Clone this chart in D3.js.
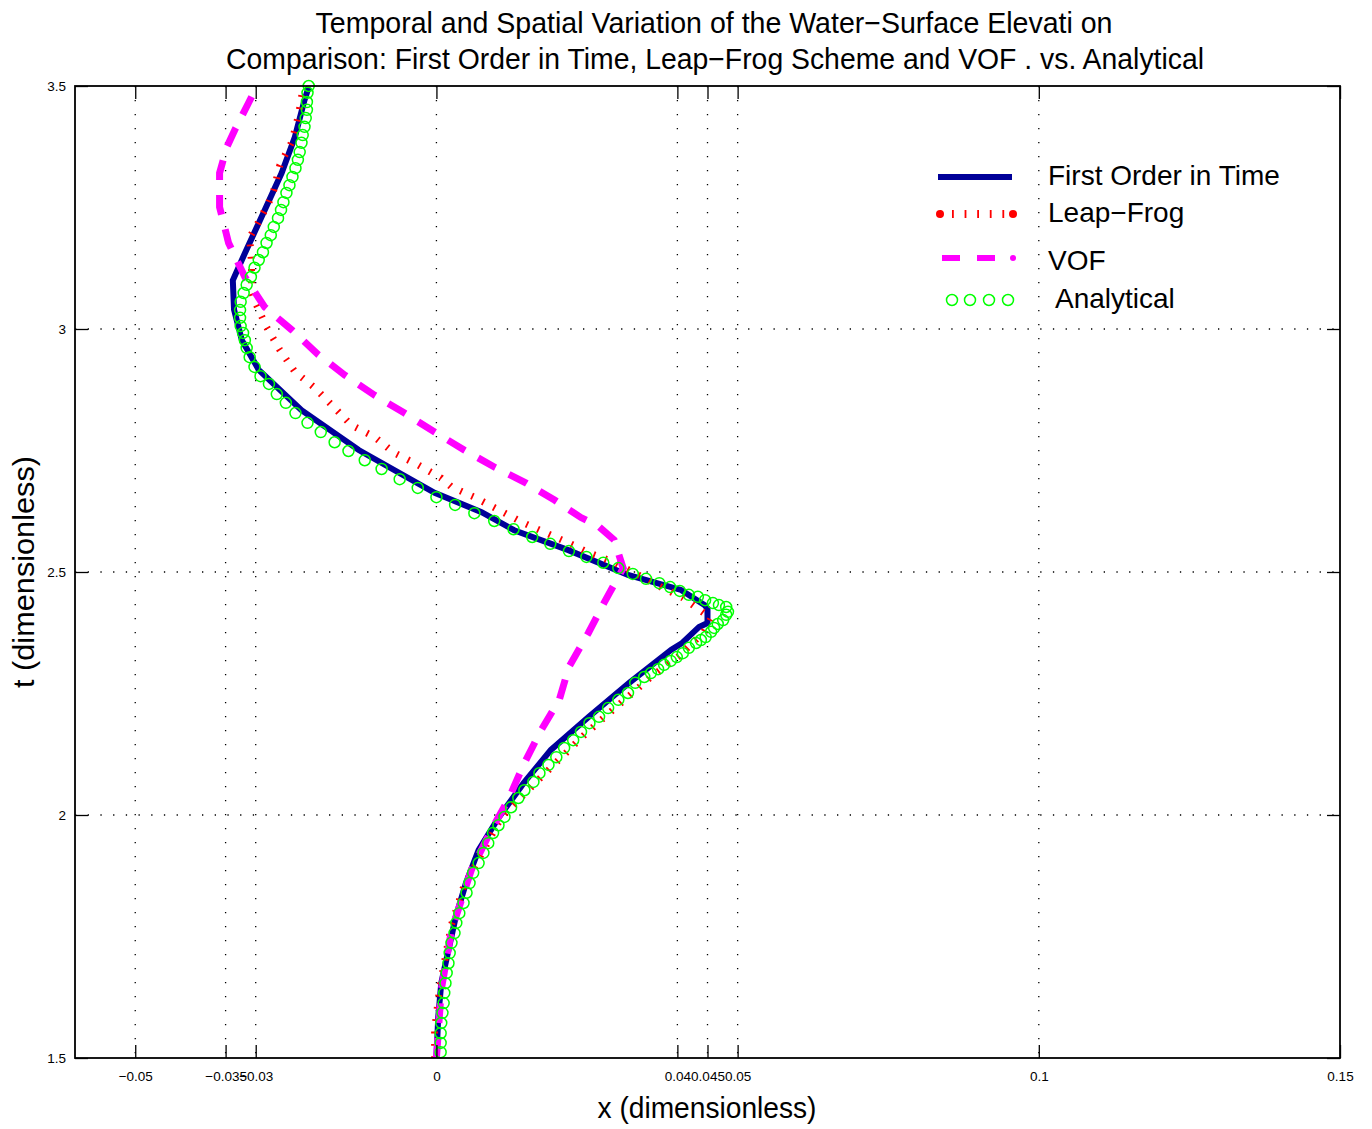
<!DOCTYPE html>
<html>
<head>
<script src="https://d3js.org/d3.v7.min.js"></script>
<style>
  body { margin: 0; background: #fff; }
  text { font-family: "Liberation Sans", Arial, Helvetica, sans-serif; }
</style>
</head>
<body>
<script>
  var width = 1372;
  var height = 1129;
  var plotL = 75, plotR = 1340, plotT = 86, plotB = 1058;

  // tick values / labels
  var xTicks = [-0.05, -0.035, -0.03, 0, 0.04, 0.045, 0.05, 0.1, 0.15];
  var xTickLabels = ["\u22120.05", "\u22120.035", "\u22120.03", "0", "0.04", "0.045", "0.05", "0.1", "0.15"];
  var yTicks = [1.5, 2, 2.5, 3, 3.5];
  var yTickLabels = ["1.5", "2", "2.5", "3", "3.5"];

  var seriesNames = ["First Order in Time", "Leap\u2212Frog", "VOF", "Analytical"];

  // First Order in Time (t, x)
  var firstT = [1.500, 1.584, 1.654, 1.722, 1.790, 1.860, 1.928, 1.996, 2.066, 2.134, 2.202, 2.272, 2.340, 2.354,
                2.387, 2.395, 2.425, 2.432, 2.463, 2.494, 2.545, 2.586, 2.623, 2.663, 2.751, 2.833, 2.916, 2.977,
                3.040, 3.100, 3.156, 3.245, 3.321, 3.395, 3.471, 3.498];
  var firstX = [0.0000, 0.0003, 0.0008, 0.0020, 0.0032, 0.0049, 0.0070, 0.0104, 0.0145, 0.0190, 0.0253, 0.0320, 0.0390, 0.0408,
                0.0436, 0.0450, 0.0450, 0.0445, 0.0406, 0.0318, 0.0219, 0.0129, 0.0075, -0.0003, -0.0129, -0.0224, -0.0295, -0.0323,
                -0.0336, -0.0338, -0.0318, -0.0285, -0.0257, -0.0235, -0.0219, -0.0212];

  // Leap-Frog (t, x)
  var leapT = [1.500, 1.558, 1.640, 1.722, 1.774, 1.852, 1.996, 2.072, 2.169, 2.243, 2.284, 2.325, 2.377, 2.405,
               2.430, 2.447, 2.469, 2.494, 2.521, 2.539, 2.560, 2.582, 2.603, 2.628, 2.654, 2.675, 2.693, 2.720,
               2.745, 2.778, 2.802, 2.840, 2.879, 2.912, 2.957, 3.004, 3.053, 3.076, 3.136, 3.189, 3.214, 3.261,
               3.286, 3.337, 3.385, 3.440, 3.492];
  var leapX = [-0.0003, -0.0003, 0.0005, 0.0017, 0.0025, 0.0045, 0.0108, 0.0169, 0.0249, 0.0318, 0.0356, 0.0401, 0.0444, 0.0456,
               0.0428, 0.0409, 0.0373, 0.0335, 0.0293, 0.0254, 0.0219, 0.0179, 0.0141, 0.0103, 0.0063, 0.0025, 0.0008, -0.0030,
               -0.0070, -0.0103, -0.0141, -0.0171, -0.0202, -0.0235, -0.0260, -0.0282, -0.0300, -0.0307, -0.0307, -0.0310, -0.0298, -0.0278,
               -0.0270, -0.0260, -0.0240, -0.0229, -0.0222];

  // VOF (t, x)
  var vofT = [1.500, 1.640, 1.763, 1.887, 1.969, 2.031, 2.107, 2.175, 2.237, 2.305, 2.374, 2.436, 2.508, 2.566,
              2.595, 2.612, 2.648, 2.683, 2.716, 2.751, 2.788, 2.827, 2.864, 2.905, 2.947, 2.998, 3.045, 3.107,
              3.177, 3.251, 3.321, 3.374, 3.409, 3.465, 3.490];
  var vofX = [0.0000, 0.0008, 0.0025, 0.0058, 0.0091, 0.0119, 0.0146, 0.0174, 0.0204, 0.0220, 0.0252, 0.0278, 0.0310, 0.0295,
              0.0268, 0.0240, 0.0196, 0.0149, 0.0096, 0.0046, -0.0003, -0.0053, -0.0103, -0.0152, -0.0196, -0.0240, -0.0285, -0.0318,
              -0.0345, -0.0360, -0.0360, -0.0348, -0.0335, -0.0312, -0.0302];

  // Analytical (t, x)
  var anaT = [1.512, 1.531, 1.551, 1.572, 1.593, 1.613, 1.634, 1.654, 1.675, 1.695, 1.716, 1.737, 1.757, 1.778, 1.798,
              1.819, 1.840, 1.860, 1.881, 1.901, 1.922, 1.942, 1.963, 1.979, 1.996, 2.016, 2.035, 2.051, 2.068, 2.086,
              2.103, 2.119, 2.138, 2.154, 2.171, 2.189, 2.202, 2.220, 2.237, 2.251, 2.272, 2.284, 2.292, 2.300, 2.309,
              2.317, 2.325, 2.333, 2.344, 2.354, 2.360, 2.366, 2.377, 2.385, 2.393, 2.401, 2.412, 2.418, 2.428, 2.432,
              2.436, 2.442, 2.449, 2.453, 2.461, 2.469, 2.477, 2.486, 2.496, 2.508, 2.519, 2.531, 2.543, 2.558, 2.572,
              2.588, 2.605, 2.621, 2.638, 2.654, 2.673, 2.691, 2.712, 2.730, 2.749, 2.767, 2.788, 2.807, 2.827, 2.848,
              2.866, 2.887, 2.903, 2.922, 2.942, 2.961, 2.977, 2.992, 3.006, 3.023, 3.039, 3.056, 3.074, 3.091, 3.107,
              3.126, 3.142, 3.158, 3.177, 3.193, 3.210, 3.228, 3.245, 3.261, 3.280, 3.296, 3.313, 3.331, 3.348, 3.364,
              3.383, 3.399, 3.416, 3.434, 3.451, 3.467, 3.486, 3.500];
  var anaX = [0.0007, 0.0007, 0.0007, 0.0008, 0.0010, 0.0012, 0.0013, 0.0015, 0.0017, 0.0020, 0.0022, 0.0025, 0.0030, 0.0033, 0.0038,
              0.0045, 0.0050, 0.0055, 0.0061, 0.0070, 0.0078, 0.0086, 0.0094, 0.0103, 0.0113, 0.0124, 0.0136, 0.0146, 0.0161, 0.0171,
              0.0186, 0.0199, 0.0212, 0.0227, 0.0240, 0.0254, 0.0270, 0.0285, 0.0302, 0.0318, 0.0330, 0.0345, 0.0356, 0.0368, 0.0378,
              0.0389, 0.0399, 0.0409, 0.0419, 0.0431, 0.0439, 0.0447, 0.0456, 0.0461, 0.0467, 0.0476, 0.0481, 0.0484, 0.0481, 0.0469,
              0.0459, 0.0446, 0.0434, 0.0419, 0.0404, 0.0388, 0.0370, 0.0348, 0.0326, 0.0302, 0.0277, 0.0249, 0.0220, 0.0189, 0.0159,
              0.0128, 0.0096, 0.0063, 0.0031, 0.0000, -0.0031, -0.0061, -0.0091, -0.0119, -0.0146, -0.0169, -0.0192, -0.0214, -0.0234, -0.0250,
              -0.0265, -0.0278, -0.0292, -0.0302, -0.0310, -0.0315, -0.0318, -0.0321, -0.0325, -0.0326, -0.0326, -0.0325, -0.0320, -0.0315, -0.0308,
              -0.0302, -0.0295, -0.0288, -0.0282, -0.0275, -0.0270, -0.0263, -0.0258, -0.0254, -0.0249, -0.0244, -0.0239, -0.0234, -0.0230, -0.0227,
              -0.0224, -0.0222, -0.0219, -0.0217, -0.0215, -0.0215, -0.0214, -0.0212];

  var svg = d3.select("body").append("svg")
    .attr("width", width)
    .attr("height", height);

  var x = d3.scaleLinear().domain([-0.06, 0.15]).range([plotL, plotR]);
  var y = d3.scaleLinear().domain([1.5, 3.5]).range([plotB, plotT]);

  // dotted grid
  var grid = svg.append("g");
  grid.selectAll(".vgrid").data(xTicks.filter(function(d){ return d < 0.15; }))
    .enter().append("line")
    .attr("x1", function(d){ return x(d); }).attr("x2", function(d){ return x(d); })
    .attr("y1", plotT).attr("y2", plotB)
    .style("stroke", "#000").style("stroke-width", 1.3)
    .style("stroke-dasharray", "1.3,12.7");
  grid.selectAll(".hgrid").data([2, 2.5, 3])
    .enter().append("line")
    .attr("x1", plotL).attr("x2", plotR)
    .attr("y1", function(d){ return y(d); }).attr("y2", function(d){ return y(d); })
    .style("stroke", "#000").style("stroke-width", 1.3)
    .style("stroke-dasharray", "1.3,11.4");

  function pts(T, X) {
    return T.map(function(t, i){ return [X[i], t]; });
  }
  var line = d3.line()
    .x(function(d){ return x(d[0]); })
    .y(function(d){ return y(d[1]); });

  svg.append("path").datum(pts(firstT, firstX))
    .attr("d", line)
    .style("fill", "none").style("stroke", "#000099")
    .style("stroke-width", 6).style("stroke-linejoin", "miter");

  svg.append("path").datum(pts(leapT, leapX))
    .attr("d", line)
    .style("fill", "none").style("stroke", "#ff0000")
    .style("stroke-width", 7).style("stroke-dasharray", "1.8,10.5");

  svg.append("path").datum(pts(vofT, vofX))
    .attr("d", line)
    .style("fill", "none").style("stroke", "#ff00ff")
    .style("stroke-width", 7).style("stroke-dasharray", "20,15");

  svg.selectAll(".ana").data(pts(anaT, anaX))
    .enter().append("circle")
    .attr("cx", function(d){ return x(d[0]); })
    .attr("cy", function(d){ return y(d[1]); })
    .attr("r", 5.5)
    .style("fill", "none").style("stroke", "#00ff00").style("stroke-width", 1.5);

  // axes, ticks inward
  var gx = svg.append("g").attr("transform", "translate(0," + plotB + ")")
    .call(d3.axisBottom(x).tickValues(xTicks)
      .tickFormat(function(d, i){ return xTickLabels[i]; })
      .tickSizeInner(-13).tickSizeOuter(0).tickPadding(13));
  var gy = svg.append("g").attr("transform", "translate(" + plotL + ",0)")
    .call(d3.axisLeft(y).tickValues(yTicks)
      .tickFormat(function(d, i){ return yTickLabels[i]; })
      .tickSizeInner(-13).tickSizeOuter(0).tickPadding(9));
  var gt = svg.append("g").attr("transform", "translate(0," + plotT + ")")
    .call(d3.axisTop(x).tickValues(xTicks).tickFormat("").tickSizeInner(-13).tickSizeOuter(0));
  var gr = svg.append("g").attr("transform", "translate(" + plotR + ",0)")
    .call(d3.axisRight(y).tickValues(yTicks).tickFormat("").tickSizeInner(-13).tickSizeOuter(0));
  [gx, gy, gt, gr].forEach(function(g){
    g.selectAll(".tick line").style("stroke", "#000").style("stroke-width", 1.3);
    g.select(".domain").remove();
    g.selectAll("text").style("font-size", "13.5px").style("fill", "#000")
      .style("font-family", "'Liberation Sans', Arial, sans-serif");
  });

  svg.append("rect")
    .attr("x", plotL).attr("y", plotT)
    .attr("width", plotR - plotL).attr("height", plotB - plotT)
    .style("fill", "none").style("stroke", "#000").style("stroke-width", 1.8);

  // titles
  svg.append("text").attr("x", 714).attr("y", 33)
    .attr("text-anchor", "middle").style("font-size", "29px")
    .attr("textLength", 797).attr("lengthAdjust", "spacingAndGlyphs")
    .text("Temporal and Spatial Variation of the Water\u2212Surface Elevati on");
  svg.append("text").attr("x", 715).attr("y", 69)
    .attr("text-anchor", "middle").style("font-size", "29px")
    .attr("textLength", 978).attr("lengthAdjust", "spacingAndGlyphs")
    .text("Comparison: First Order in Time, Leap\u2212Frog Scheme and VOF . vs. Analytical");

  svg.append("text").attr("x", 707).attr("y", 1118)
    .attr("text-anchor", "middle").style("font-size", "29px")
    .attr("textLength", 219).attr("lengthAdjust", "spacingAndGlyphs")
    .text("x (dimensionless)");
  svg.append("text").attr("transform", "translate(34,572) rotate(-90)")
    .attr("text-anchor", "middle").style("font-size", "29px")
    .attr("textLength", 232).attr("lengthAdjust", "spacingAndGlyphs")
    .text("t (dimensionless)");

  // legend
  var leg = svg.append("g");
  leg.append("line").attr("x1", 938).attr("x2", 1012).attr("y1", 177).attr("y2", 177)
    .style("stroke", "#000099").style("stroke-width", 6);

  leg.append("line").attr("x1", 940).attr("x2", 1013).attr("y1", 214).attr("y2", 214)
    .style("stroke", "#ff0000").style("stroke-width", 8).style("stroke-dasharray", "1.8,10.8")
    .style("stroke-dashoffset", -12);
  leg.selectAll(".lfdot").data([940, 1013]).enter().append("circle")
    .attr("cx", function(d){ return d; }).attr("cy", 214).attr("r", 4)
    .style("fill", "#ff0000");

  leg.append("line").attr("x1", 942).attr("x2", 995).attr("y1", 258).attr("y2", 258)
    .style("stroke", "#ff00ff").style("stroke-width", 6).style("stroke-dasharray", "18,17");
  leg.append("circle").attr("cx", 1013).attr("cy", 258).attr("r", 3).style("fill", "#ff00ff");

  leg.selectAll(".anleg").data([952, 970, 989, 1008]).enter().append("circle")
    .attr("cx", function(d){ return d; }).attr("cy", 300).attr("r", 5.5)
    .style("fill", "none").style("stroke", "#00ff00").style("stroke-width", 1.5);

  var legX = [1048, 1048, 1048, 1055];
  var legY = [185, 222, 270, 308];
  var legW = [235, 137, 57, 120];
  leg.selectAll(".legtext").data(seriesNames).enter().append("text")
    .attr("x", function(d, i){ return legX[i]; })
    .attr("y", function(d, i){ return legY[i]; })
    .style("font-size", "28px")
    .text(function(d){ return d; });
</script>
</body>
</html>
